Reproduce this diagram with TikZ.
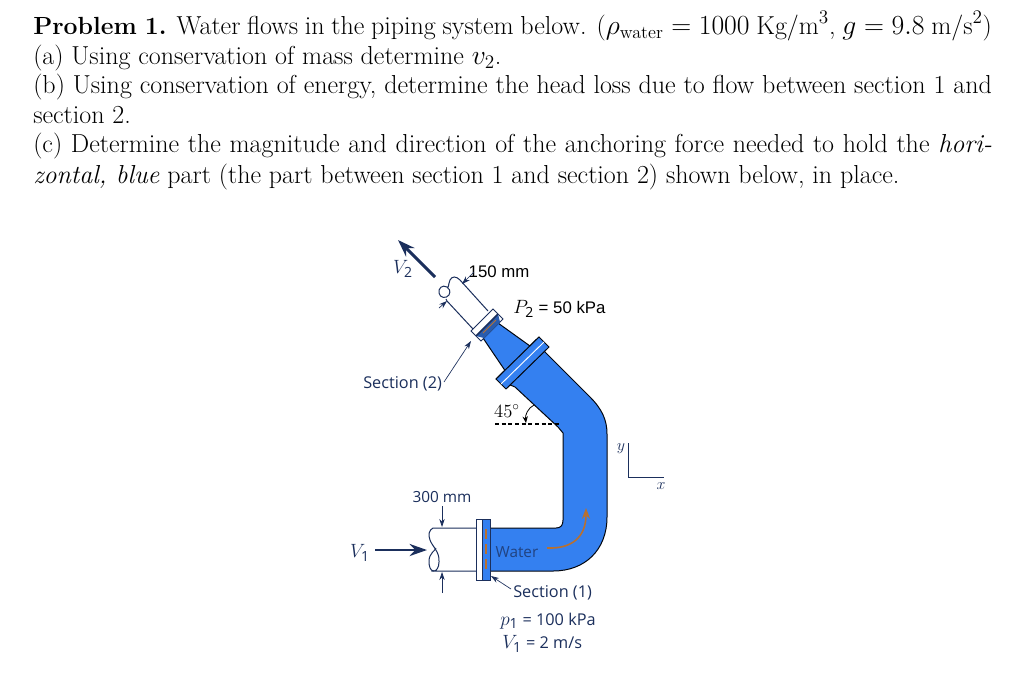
\documentclass[tikz,border=0pt]{standalone}
\usepackage{fontspec}
\usepackage{amsmath}
\usetikzlibrary{arrows.meta}
\newfontfamily\labelfont{Open Sans}
\newfontfamily\helvfont{Liberation Sans}
\definecolor{pipeblue}{HTML}{3480F0}
\definecolor{navy}{HTML}{1B2F5C}
\definecolor{flow}{HTML}{B8702F}
\newlength{\linew}\setlength{\linew}{719pt}
\newcommand{\bodysize}{\fontsize{19.5}{23}\selectfont}
\newcommand{\symb}[2]{{\fontsize{15}{17}\selectfont$#1_{\text{\labelfont #2}}$}}
\tikzset{
  textline/.style={anchor=base west,inner sep=0pt,font=\bodysize,text=black},
  lab/.style={inner sep=0pt,font=\labelfont\fontsize{11.5}{13}\selectfont,text=navy},
  seclab/.style={lab,font=\labelfont\fontsize{12.2}{14}\selectfont},
  helv/.style={inner sep=0pt,font=\helvfont\fontsize{12.6}{14}\selectfont,text=black},
  mlab/.style={inner sep=0pt,font=\fontsize{15}{17}\selectfont,text=navy},
  pipeout/.style={draw=navy,line width=0.75pt},
  pipefill/.style={fill=pipeblue,draw=black!85!navy,line width=0.75pt,line join=round},
  dim/.style={draw=navy,line width=0.5pt,-{Stealth[length=6pt,width=4pt]}},
  bigflow/.style={draw=navy,line width=2.2pt,-{Stealth[length=13pt,width=9pt]}},
  flowarrow/.style={draw=flow,line width=1.2pt,-{Stealth[length=8pt,width=6pt]}},
}
\begin{document}
\begin{tikzpicture}[x=0.75pt,y=-0.75pt]
\useasboundingbox (0,0) rectangle (1024,687);
\fill[white] (0,0) rectangle (1024,687);
% --- problem text
\node[textline] (l1) at (33,34) {\hbox to \linew{{\fontsize{18.6}{23}\selectfont\textbf{Problem 1.}} Water flows in the piping system below. ($\rho_{\text{water}}=1000$ Kg/m$^3$, $g=9.8$ m/s$^2$)}};
\node[textline] (l2) at (33,64) {(a) Using conservation of mass determine $v_2$.};
\node[textline] (l3) at (33,93) {\hbox to \linew{(b) Using conservation of energy, determine the head loss due to flow between section 1 and}};
\node[textline] (l4) at (33,123) {section 2.};
\node[textline] (l5) at (33,152) {\hbox to \linew{(c) Determine the magnitude and direction of the anchoring force needed to hold the \textit{hori-}}};
\node[textline] (l6) at (33,183) {\textit{zontal, blue} part (the part between section 1 and section 2) shown below, in place.};
% --- pipe body
\path[pipefill] (490,528) -- (556,528) .. controls (561,528) and (563,525) .. (563,520) -- (563,433) -- (558,427) -- (515,387)
  -- (496,379) -- (539,337) -- (545,352) -- (590,397) .. controls (602,409) and (607,420) .. (607,434) -- (607,517)
  .. controls (607,550) and (585,571) .. (553,571) -- (490,571) -- cycle;
% cone
\path[pipefill] (483,338) -- (498,323) -- (530,346) -- (506,372) -- cycle;
% large flange
\path[pipefill] (539,337) -- (549,347) -- (506,389) -- (496,379) -- cycle;
\draw[white,line width=0.7pt] (501,384) -- (544,342);
% small flange, section 2
\path[fill=white,draw=navy,line width=0.75pt] (493,309) -- (503,319) -- (481,341) -- (471,331) -- cycle;
\path[fill=navy!45!pipeblue] (498,314) -- (500,322) -- (484,338) -- (476,336) -- cycle;
\draw[navy,line width=1.1pt] (498,314) -- (476,336);
\draw[flow,line width=0.7pt] (496,320) -- (483,333);
% white pipe, section 2
\coordinate (s2a) at (488,311);
\coordinate (s2b) at (460,280);
\coordinate (s2c) at (473,329);
\coordinate (s2d) at (447,301);
\draw[pipeout] (s2a) -- (s2b) .. controls (456,276) and (452,276) .. (450,280) .. controls (448,285) and (449,288) .. (447,287)
  .. controls (442,284) and (438,289) .. (439,293) .. controls (440,298) and (446,299) .. (449,295) .. controls (451,291) and (449,288) .. (447,287);
\draw[pipeout] (s2c) -- (s2d) -- (446,299);
% section 1 flange
\path[fill=white,draw=navy,line width=0.75pt] (476,519) rectangle (482,580);
\path[fill=pipeblue,draw=navy,line width=0.75pt] (482,519) rectangle (490,580);
\draw[flow,line width=1pt,dash pattern=on 7.5pt off 3.75pt] (486,529) -- (486,569);
% white pipe, section 1
\draw[pipeout] (476,528) -- (433,528) .. controls (429,530) and (428,535) .. (430,540) .. controls (432,546) and (440,552) .. (439,562)
  .. controls (439,568) and (436,571) .. (434,571) -- (476,571);
\draw[pipeout] (434,571) .. controls (430,571) and (429,566) .. (429,561) .. controls (429,553) and (436,550) .. (436,548);
% V2
\coordinate (v2a) at (435,277);
\coordinate (v2b) at (398,240);
\draw[bigflow] (v2a) -- (v2b);
\node[mlab] (v2) at (403,269) {\symb{V}{2}};
% 150 mm
\node[helv] (d150) at (499,272) {150 mm};
\coordinate (d150a) at (474,272);
\coordinate (d150b) at (462,284);
\coordinate (d150c) at (439,308);
\coordinate (d150d) at (447,301);
\draw[dim] (d150a) -- (d150b);
\draw[dim] (d150c) -- (d150d);
% P2
\node[helv,anchor=west] (p2) at (513,309) {\symb{P}{2} = 50 kPa};
% Section 2
\node[seclab,anchor=west] (sec2) at (363,384) {Section (2)};
\coordinate (sec2t) at (471,341);
\draw[dim] (444,382) -- (sec2t);
% 45 deg
\node[inner sep=0pt,font=\fontsize{14}{16}\selectfont] (ang) at (507,411) {45$^\circ$};
\draw[black,line width=1pt,dash pattern=on 3pt off 2pt] (495,424) -- (559,424);
\coordinate (anga) at (534,405);
\coordinate (angb) at (526,423);
\draw[black,line width=0.6pt,-{Stealth[length=5pt,width=4pt]}] (anga) .. controls (528,408) and (525,415) .. (angb);
% V1
\coordinate (v1a) at (375,550);
\coordinate (v1b) at (427,550);
\draw[bigflow] (v1a) -- (v1b);
\node[mlab] (v1) at (360,553) {\symb{V}{1}};
% 300 mm
\node[lab] (d300) at (442,497) {300 mm};
\coordinate (d300a) at (442,506);
\coordinate (d300b) at (442,527);
\coordinate (d300c) at (442,593);
\coordinate (d300d) at (442,572);
\draw[dim] (d300a) -- (d300b);
\draw[dim] (d300c) -- (d300d);
% water
\node[lab,text=navy!75!pipeblue] (water) at (517,552) {Water};
\coordinate (fa) at (547,548);
\coordinate (fb) at (586,508);
\draw[flowarrow] (fa) .. controls (572,549) and (586,537) .. (fb);
% section 1
\node[seclab,anchor=west] (sec1) at (513,593) {Section (1)};
\coordinate (sec1t) at (491,576);
\draw[dim] (511,589) -- (sec1t);
\node[seclab,anchor=west] (p1) at (500,621) {\symb{p}{1} = 100 kPa};
\node[seclab,anchor=west] (v1v) at (502,644) {\symb{V}{1} = 2 m/s};
% axes
\coordinate (ay) at (628,443);
\coordinate (ao) at (628,477);
\coordinate (ax) at (664,477);
\draw[navy,line width=0.75pt] (ay) -- (ao) -- (ax);
\node[mlab,font=\fontsize{12}{14}\selectfont] (ylab) at (621,449) {$y$};
\node[mlab,font=\fontsize{12}{14}\selectfont] (xlab) at (661,486) {$x$};
\end{tikzpicture}
\end{document}
